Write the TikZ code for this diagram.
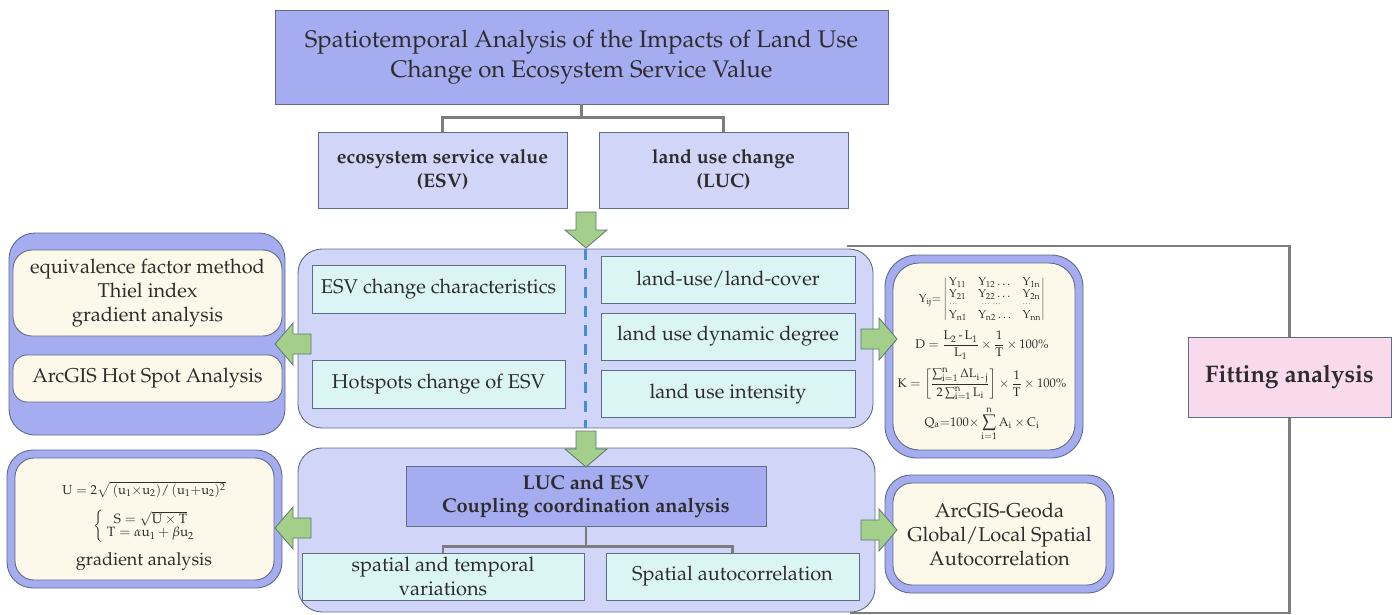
\documentclass[tikz,border=0pt]{standalone}
\usepackage[T1]{fontenc}
\usepackage{mathpazo}
\usepackage{amsmath}
\usetikzlibrary{backgrounds}

\definecolor{peri}{RGB}{165,172,240}
\definecolor{lav}{RGB}{209,213,247}
\definecolor{aqua}{RGB}{219,244,244}
\definecolor{cream}{RGB}{252,249,234}
\definecolor{leaf}{RGB}{164,207,138}
\definecolor{leafedge}{RGB}{92,118,112}
\definecolor{rose}{RGB}{248,218,236}
\definecolor{edge}{RGB}{95,108,135}
\definecolor{ink}{RGB}{45,45,45}
\definecolor{wire}{RGB}{125,125,125}
\definecolor{split}{RGB}{70,140,215}

\tikzset{
  every node/.style={text=ink, inner sep=0pt, align=center},
  plainbox/.style={draw=edge, line width=0.9pt},
  titlebox/.style={plainbox, fill=peri, font=\fontsize{24}{30}\selectfont},
  headbox/.style={plainbox, fill=lav, font=\fontsize{19.5}{24}\selectfont\bfseries},
  keybox/.style={plainbox, fill=peri, font=\fontsize{20}{23}\selectfont\bfseries},
  panel/.style={plainbox, fill=lav, rounded corners=24pt},
  itembox/.style={plainbox, fill=aqua, font=\fontsize{20}{24}\selectfont},
  shell/.style={plainbox, fill=peri, rounded corners=26pt},
  core/.style={plainbox, fill=cream, rounded corners=19pt, font=\fontsize{20}{24}\selectfont},
  fitbox/.style={plainbox, fill=rose, font=\fontsize{24}{28}\selectfont\bfseries},
  wirelink/.style={draw=wire, line width=2.4pt},
  framelink/.style={draw=wire, line width=2.2pt},
  splitline/.style={draw=split, line width=2.4pt, dash pattern=on 11pt off 8pt},
  blockarrow/.pic={
    \path[draw=leafedge, fill=leaf, line width=0.8pt, line join=miter]
      (-18,-10) -- (0,-10) -- (0,-21) -- (18,0) -- (0,21) -- (0,10) -- (-18,10) -- cycle;
  }
}

\begin{document}
\begin{tikzpicture}[x=1pt, y=-1pt]
\useasboundingbox (0,0) rectangle (1395,615);

% title and the two themes
\node[titlebox, minimum width=613, minimum height=94] (title) at (581.5,57)
  {Spatiotemporal Analysis of the Impacts of Land Use\\Change on Ecosystem Service Value};
\node[headbox, minimum width=249, minimum height=76] (esv) at (442.5,170)
  {ecosystem service value\\(ESV)};
\node[headbox, minimum width=249, minimum height=76] (luc) at (723.5,170)
  {land use change\\(LUC)};
\draw[wirelink] (title.south) -- ++(0,13) -| (esv.north);
\draw[wirelink] (title.south) -- ++(0,13) -| (luc.north);

% fitting analysis and its frame
\node[fitbox, minimum width=203, minimum height=80] (fit) at (1289.5,377) {Fitting analysis};
\coordinate (frametop) at (847,246);
\coordinate (framebot) at (850,613);
\begin{pgfonlayer}{background}
  \draw[framelink] (frametop) -| (fit.north);
  \draw[framelink] (framebot) -| (fit.south);
\end{pgfonlayer}

% first analysis panel
\node[panel, minimum width=575, minimum height=179] (p1) at (585.5,338.5) {};
\draw[splitline] (p1.north) -- (p1.south);
\node[itembox, minimum width=253, minimum height=48] (chg) at (438.5,289) {ESV change characteristics};
\node[itembox, minimum width=253, minimum height=48] (hot) at (438.5,384) {Hotspots change of ESV};
\node[itembox, minimum width=254, minimum height=47] (lulc) at (728,279.5) {land-use/land-cover};
\node[itembox, minimum width=254, minimum height=47] (dyn) at (728,336.5) {land use dynamic degree};
\node[itembox, minimum width=254, minimum height=47] (ints) at (728,394) {land use intensity};

% ESV methods
\node[shell, minimum width=276, minimum height=202] (m1) at (147,334) {};
\node[core, minimum width=269, minimum height=86] (m1a) at (147.5,293)
  {equivalence factor method\\Thiel index\\gradient analysis};
\node[core, rounded corners=14pt, minimum width=269, minimum height=47] (m1b) at (147.5,378.5)
  {ArcGIS Hot Spot Analysis};

% LUC formulas
\node[shell, rounded corners=32pt, minimum width=198, minimum height=203] (f1) at (984,356.5) {};
\node[core, rounded corners=26pt, minimum width=182, minimum height=187] (f1in) at (984,356.5) {};
\node[font=\fontsize{12.5}{14}\selectfont] (f1txt) at (982,359) {%
  {\fontsize{11.5}{12}\selectfont\renewcommand{\arraystretch}{1.0}%
   $\mathrm{Y_{ij}}{=}\left|\begin{array}{@{\,}l@{\quad}l@{\quad}l@{}}
     \mathrm{Y_{11}} & \mathrm{Y_{12}}\ldots & \mathrm{Y_{1n}}\\
     \mathrm{Y_{21}} & \mathrm{Y_{22}}\ldots & \mathrm{Y_{2n}}\\[-1pt]
     \raisebox{2pt}{$\scriptstyle\cdots$} & \;\raisebox{2pt}{$\scriptstyle\cdots\ \cdots$} & \raisebox{2pt}{$\scriptstyle\cdots$}\\[-2pt]
     \mathrm{Y_{n1}} & \mathrm{Y_{n2}}\ldots & \mathrm{Y_{nn}}
   \end{array}\right|$}\\[8pt]
  $\mathrm{D}=\dfrac{\mathrm{L_2\,\text{-}\,L_1}}{\mathrm{L_1}}\times\dfrac{1}{\mathrm{T}}\times100\%$\\[8pt]
  $\mathrm{K}=\left[\dfrac{\sum_{\mathrm{i=1}}^{\mathrm{n}}\Delta\mathrm{L_{i\,\text{-}\,j}}}{2\sum_{\mathrm{i=1}}^{\mathrm{n}}\mathrm{L_i}}\right]\times\dfrac{1}{\mathrm{T}}\times100\%$\\[6pt]
  $\displaystyle\mathrm{Q_a}{=}100{\times}\sum_{\mathrm{i=1}}^{\mathrm{n}}\mathrm{A_i}\times\mathrm{C_i}$};

% coupling panel
\node[panel, minimum width=577, minimum height=164] (p2) at (586.5,530) {};
\node[keybox, minimum width=360, minimum height=60] (cpl) at (586,496)
  {LUC and ESV\\Coupling coordination analysis};
\node[itembox, minimum width=282, minimum height=47] (stv) at (443,576.5)
  {spatial and temporal\\variations};
\node[itembox, minimum width=253, minimum height=47] (sac) at (732.5,576.5)
  {Spatial autocorrelation};
\draw[wirelink] (cpl.south) -- ++(0,20) -| (stv.north);
\draw[wirelink] (cpl.south) -- ++(0,20) -| (sac.north);

% coupling formulas
\node[shell, minimum width=275, minimum height=138] (m2) at (144.5,519) {};
\node[core, minimum width=259, minimum height=122] (m2in) at (144.5,519) {};
\node[font=\fontsize{13}{15}\selectfont] (m2txt) at (144,526) {%
  $\mathrm{U}=2\sqrt{\,(\mathrm{u_1{\times}u_2})/\,(\mathrm{u_1{+}u_2})^2}$\\[11pt]
  {\fontsize{13.5}{14}\selectfont\renewcommand{\arraystretch}{0.95}%
   $\left\{\begin{array}{@{\;}c@{}}\mathrm{S}=\sqrt{\mathrm{U}\times\mathrm{T}}\\
     \mathrm{T}=\alpha\mathrm{u_1}+\beta\mathrm{u_2}\end{array}\right.$}\\[9pt]
  {\fontsize{18}{20}\selectfont gradient analysis}};

% spatial autocorrelation tools
\node[shell, minimum width=229, minimum height=118] (g2) at (999.5,534) {};
\node[core, minimum width=213, minimum height=102] (g2in) at (999.5,534)
  {ArcGIS-Geoda\\Global/Local Spatial\\Autocorrelation};

% flow arrows
\pic[rotate=-90] at (586,230) {blockarrow};
\pic[rotate=-90] at (586,449) {blockarrow};
\pic[rotate=180] at (293,344) {blockarrow};
\pic[rotate=180] at (293,528) {blockarrow};
\pic at (879,339) {blockarrow};
\pic at (879,530) {blockarrow};
\end{tikzpicture}
\end{document}
